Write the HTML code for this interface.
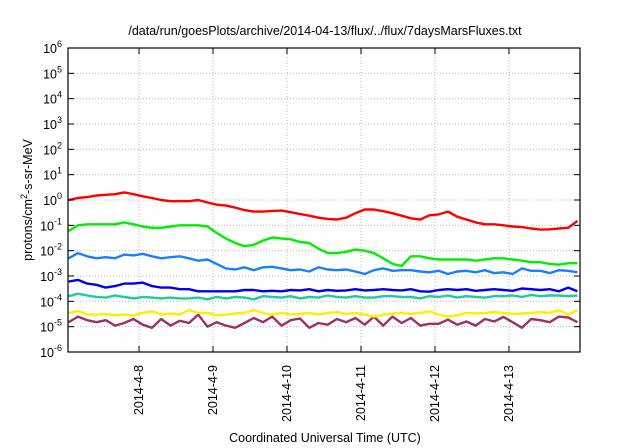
<!DOCTYPE html>
<html><head><meta charset="utf-8"><style>
body{margin:0;background:#fff;}
svg{display:block;font-family:"Liberation Sans",sans-serif;}
</style></head><body>
<svg id="chart" width="640" height="448" viewBox="0 0 640 448" xmlns="http://www.w3.org/2000/svg">
<rect width="640" height="448" fill="#fff"/>
<text x="325" y="35" font-size="12.5" text-anchor="middle" fill="#000">/data/run/goesPlots/archive/2014-04-13/flux/../flux/7daysMarsFluxes.txt</text>
<text x="325" y="442" font-size="12.5" text-anchor="middle" fill="#000">Coordinated Universal Time (UTC)</text>
<text transform="translate(32,200) rotate(-90)" font-size="12.5" text-anchor="middle" fill="#000">protons/cm<tspan dy="-5" font-size="9">2</tspan><tspan dy="5">-s-sr-MeV</tspan></text>
<g id="grid"></g><g id="series"></g><g id="axes"></g>
</svg>
<script>
const dayLabels = ["2014-4-8","2014-4-9","2014-4-10","2014-4-11","2014-4-12","2014-4-13"];
const dayTicks = [0,1,2,3,4,5];
const yExps = [-6,-5,-4,-3,-2,-1,0,1,2,3,4,5,6];
const times = [];
for (let i = 0; i < 56; i++) times.push(-0.95 + i * 0.125);
const red = [1.0,1.2,1.3,1.5,1.6,1.7,2.0,1.7,1.4,1.2,1.0,0.9,0.9,0.9,1.0,0.8,0.65,0.6,0.5,0.4,0.35,0.35,0.37,0.38,0.33,0.28,0.24,0.2,0.18,0.17,0.2,0.3,0.42,0.42,0.36,0.3,0.24,0.19,0.17,0.25,0.27,0.35,0.22,0.17,0.13,0.11,0.11,0.1,0.09,0.085,0.075,0.068,0.07,0.075,0.08,0.15];
const green = [0.06,0.1,0.11,0.11,0.11,0.11,0.13,0.11,0.09,0.08,0.08,0.09,0.1,0.1,0.1,0.09,0.05,0.03,0.02,0.015,0.017,0.025,0.033,0.03,0.028,0.022,0.02,0.012,0.008,0.008,0.009,0.011,0.01,0.008,0.005,0.003,0.0025,0.006,0.006,0.005,0.0045,0.0045,0.0045,0.0045,0.004,0.0045,0.005,0.005,0.0045,0.004,0.0035,0.0035,0.003,0.0028,0.0032,0.0032];
const lightBlue = [0.005,0.008,0.006,0.005,0.0055,0.005,0.007,0.0065,0.0075,0.006,0.005,0.0055,0.006,0.005,0.004,0.0045,0.003,0.002,0.0018,0.0022,0.0017,0.0022,0.0023,0.002,0.0017,0.0018,0.0015,0.0022,0.0018,0.0017,0.0018,0.0015,0.0012,0.0017,0.002,0.0016,0.0017,0.0017,0.0015,0.0014,0.0016,0.0012,0.0015,0.0016,0.0014,0.0017,0.0013,0.0014,0.0012,0.002,0.0016,0.0016,0.0013,0.0017,0.0016,0.0014];
const blue = [0.0006,0.0007,0.0005,0.00045,0.00035,0.0004,0.0005,0.0005,0.00055,0.0004,0.00035,0.00035,0.0003,0.0003,0.00025,0.00025,0.00025,0.00025,0.00025,0.00028,0.00028,0.00025,0.00026,0.00025,0.00028,0.00027,0.0003,0.00025,0.00028,0.00026,0.00027,0.0003,0.00027,0.00028,0.0003,0.00028,0.00027,0.0003,0.00025,0.00024,0.00028,0.0003,0.00028,0.0003,0.00026,0.00028,0.0003,0.00028,0.00026,0.00032,0.0003,0.00028,0.0003,0.00025,0.00035,0.00025];
const teal = [0.00016,0.0002,0.00017,0.00015,0.00014,0.00017,0.00015,0.00013,0.00015,0.00014,0.00013,0.00014,0.00013,0.00013,0.00014,0.00012,0.00015,0.00013,0.00015,0.00014,0.00012,0.00016,0.00015,0.00014,0.00016,0.00013,0.00015,0.00014,0.00017,0.00015,0.00014,0.00016,0.00014,0.00014,0.00016,0.00016,0.00015,0.00015,0.00013,0.00016,0.00015,0.00017,0.00014,0.00016,0.00015,0.00014,0.00016,0.00016,0.00017,0.00015,0.00018,0.00016,0.00017,0.00017,0.00016,0.00017];
const yellow = [3.5e-5,4.2e-5,3e-5,3e-5,3.2e-5,2.8e-5,3e-5,2.8e-5,3.5e-5,4e-5,3e-5,3.3e-5,3e-5,4.5e-5,3.5e-5,3.5e-5,2.8e-5,3e-5,3.3e-5,3.5e-5,4.5e-5,3.5e-5,3e-5,3.5e-5,3e-5,3.2e-5,3.5e-5,3e-5,3.5e-5,3.8e-5,3.2e-5,3.5e-5,3e-5,2.5e-5,3e-5,3.3e-5,3.5e-5,3.2e-5,3.5e-5,4e-5,3e-5,2.5e-5,2.8e-5,3.5e-5,3.3e-5,3.5e-5,3.8e-5,3.5e-5,3.2e-5,3.3e-5,3.5e-5,3.8e-5,3.5e-5,4.5e-5,3e-5,4.5e-5];
const purple = [1.5e-5,2.5e-5,1.8e-5,1.5e-5,1.8e-5,1.1e-5,1.4e-5,2e-5,1.2e-5,0.9e-5,2e-5,1.1e-5,1.7e-5,1.4e-5,3e-5,1e-5,1.5e-5,1.1e-5,0.9e-5,1.4e-5,2.2e-5,1.5e-5,2.5e-5,1.1e-5,1.8e-5,2.1e-5,0.9e-5,1.4e-5,1.2e-5,2e-5,1.5e-5,2.2e-5,1.2e-5,2.5e-5,1.1e-5,2.5e-5,1.4e-5,2.2e-5,1.1e-5,1.3e-5,1.3e-5,1.9e-5,1.2e-5,1.6e-5,1.1e-5,2e-5,1.6e-5,2.4e-5,1.5e-5,0.9e-5,2e-5,1.8e-5,1.5e-5,2.5e-5,2.3e-5,1.5e-5];
const seriesList = [
 {name:"red",vals:red,color:"#ff0000"},
 {name:"green",vals:green,color:"#00ee00"},
 {name:"light-blue",vals:lightBlue,color:"#1a7fff"},
 {name:"blue",vals:blue,color:"#0000ee"},
 {name:"teal",vals:teal,color:"#1ccc9c"},
 {name:"yellow",vals:yellow,color:"#ffee00"},
 {name:"purple",vals:purple,color:"#993366"}
];
const L=68,R=580,T=48,B=352, X0=-0.96, X1=5.96;
const xS=t=>L+(t-X0)/(X1-X0)*(R-L);
const yS=v=>T+(6-Math.log10(v))/12*(B-T);
const NS="http://www.w3.org/2000/svg";
function mk(tag,attrs,parent){const e=document.createElementNS(NS,tag);for(const k in attrs)e.setAttribute(k,attrs[k]);parent.appendChild(e);return e;}
const grid=document.getElementById('grid'),ser=document.getElementById('series'),ax=document.getElementById('axes');
yExps.forEach(e=>{
 const y=yS(Math.pow(10,e));
 if(e>-6&&e<6){const g=mk('line',{x1:L,x2:R,y1:y,y2:y,stroke:'#bbb','stroke-dasharray':'1,2'},grid);
 
 }
 mk('line',{x1:L,x2:L+6,y1:y,y2:y,stroke:'#000'},ax);
 mk('line',{x1:R-6,x2:R,y1:y,y2:y,stroke:'#000'},ax);
 const t=mk('text',{x:62,y:y+5,'font-size':'12.5','text-anchor':'end'},ax);
 
 
 t.innerHTML='10<tspan dy="-6" font-size="9">'+e+'</tspan>';
});
dayTicks.forEach((d,i)=>{
 const x=xS(d);
 const g=mk('line',{x1:x,x2:x,y1:T,y2:B,stroke:'#bbb','stroke-dasharray':'1,2'},grid);
 
 
 mk('line',{x1:x,x2:x,y1:B-6,y2:B,stroke:'#000'},ax);
 mk('line',{x1:x,x2:x,y1:T,y2:T+6,stroke:'#000'},ax);
 const t=mk('text',{transform:`translate(${x+4},365) rotate(-90)`,'font-size':'12.5','text-anchor':'end'},ax);
 
 
 t.textContent=dayLabels[i];
});
const frame=mk('rect',{x:L,y:T,width:R-L,height:B-T,fill:'none',stroke:'#000','stroke-width':'1.2'},ax);


seriesList.slice().reverse().forEach(s=>{
 const pts=s.vals.map((v,i)=>xS(times[i]).toFixed(1)+','+yS(v).toFixed(1)).join(' ');
 const p=mk('polyline',{points:pts,fill:'none',stroke:s.color,'stroke-width':'2.4','stroke-linejoin':'round'},ser);
 
 
});
</script>
</body></html>
